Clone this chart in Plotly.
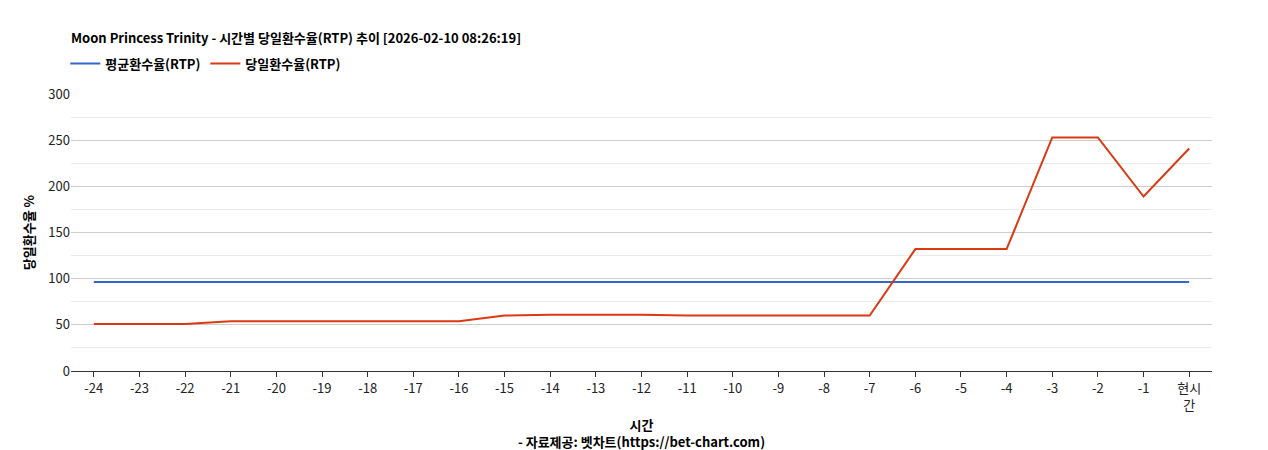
import plotly.graph_objects as go

categories = ["-24","-23","-22","-21","-20","-19","-18","-17","-16","-15","-14","-13","-12",
              "-11","-10","-9","-8","-7","-6","-5","-4","-3","-2","-1","현시<br>간"]
avg_rtp = [96.5]*25
day_rtp = [51,51,51,54,54,54,54,54,54,60,61,61,61,60,60,60,60,60,132,132,132,253,253,189,241]

font = "Noto Sans CJK KR"
fig = go.Figure()
fig.add_trace(go.Scatter(x=categories, y=avg_rtp, mode="lines", name="<b>평균환수율(RTP)</b>",
                         line=dict(color="#3366cc", width=2)))
fig.add_trace(go.Scatter(x=categories, y=day_rtp, mode="lines", name="<b>당일환수율(RTP)</b>",
                         line=dict(color="#dc3912", width=2)))
fig.update_layout(
    width=1268, height=450, paper_bgcolor="white", plot_bgcolor="white",
    margin=dict(l=63, r=64, t=86, b=87, autoexpand=False),
    font=dict(family=font, size=13, color="#222"),
    title=dict(text="<b>Moon Princess Trinity - 시간별 당일환수율(RTP) 추이 [2026-02-10 08:26:19]</b>",
               x=63/1268, xref="container", xanchor="left", y=1-30/450, yanchor="middle",
               font=dict(size=13, color="#000")),
    legend=dict(orientation="h", x=-0.005, y=1.11, xanchor="left", yanchor="middle",
                font=dict(size=13, color="#000")),
    showlegend=True,
    xaxis=dict(type="category", range=[-0.5, 24.5], showgrid=False, showline=True, linecolor="#333",
               ticks="outside", ticklen=5, tickcolor="#333", tickangle=0, automargin=False,
               title=dict(text="<b>시간</b><br><b>- 자료제공: 벳차트(https://bet-chart.com)</b>",
                          font=dict(size=13, color="#000"), standoff=8)),
    yaxis=dict(range=[0, 300], dtick=50, gridcolor="#cccccc", zeroline=False, automargin=False,
               minor=dict(dtick=25, showgrid=True, gridcolor="#ebebeb"),
               title=dict(text="<b>당일환수율 %</b>", font=dict(size=13, color="#000"), standoff=10)),
)
fig.write_html("out.html")
